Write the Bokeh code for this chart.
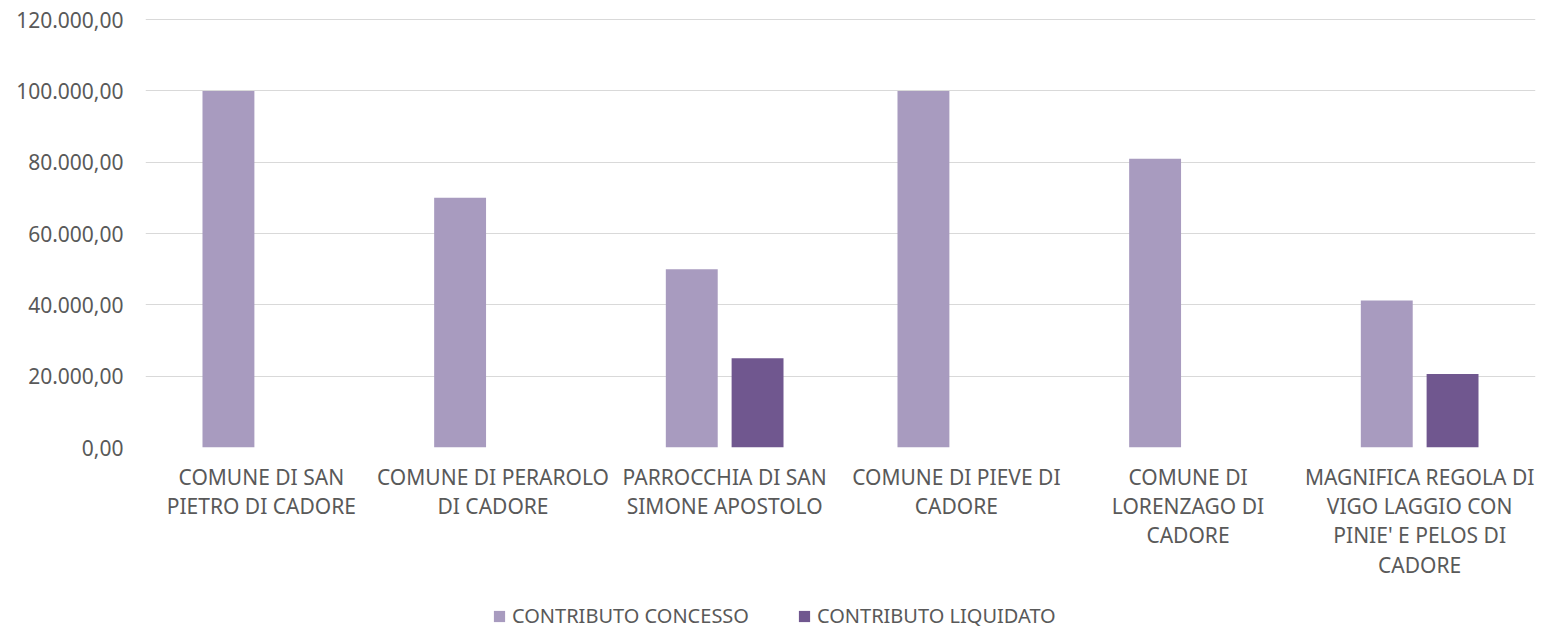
from bokeh.plotting import figure
from bokeh.layouts import column
from bokeh.models import (ColumnDataSource, FactorRange, Range1d, Legend, LegendItem,
                          CustomJSTickFormatter)
from bokeh.transform import dodge
from bokeh.embed import file_html
from bokeh.resources import INLINE

categories = [
    "COMUNE DI SAN\nPIETRO DI CADORE",
    "COMUNE DI PERAROLO\nDI CADORE",
    "PARROCCHIA DI SAN\nSIMONE APOSTOLO",
    "COMUNE DI PIEVE DI\nCADORE",
    "COMUNE DI\nLORENZAGO DI\nCADORE",
    "MAGNIFICA REGOLA DI\nVIGO LAGGIO CON\nPINIE' E PELOS DI\nCADORE",
]
concesso = [100000, 70000, 50000, 100000, 81000, 41200]
liquidato = [0, 0, 25000, 0, 0, 20600]
series_names = ["CONTRIBUTO CONCESSO", "CONTRIBUTO LIQUIDATO"]
colors = ["#a89bbf", "#70578f"]

FONT = "Noto Sans"
TXT = "#595959"
FS = "21px"

src = ColumnDataSource(dict(cat=categories, concesso=concesso, liquidato=liquidato))

p = figure(width=1542, height=602, x_range=FactorRange(*categories),
           y_range=Range1d(0, 120300), output_backend="svg", toolbar_location=None,
           min_border_left=145, min_border_right=7, min_border_top=18, min_border_bottom=155)
p.outline_line_color = None
p.background_fill_color = "white"
p.border_fill_color = "white"

r1 = p.vbar(x=dodge("cat", -0.142, range=p.x_range), top="concesso", width=0.224,
            source=src, fill_color=colors[0], line_color=None)
r2 = p.vbar(x=dodge("cat", 0.142, range=p.x_range), top="liquidato", width=0.224,
            source=src, fill_color=colors[1], line_color=None)

p.x_range.range_padding = 0
p.xgrid.grid_line_color = None
p.ygrid.grid_line_color = "#d9d9d9"
p.ygrid.grid_line_width = 1
p.yaxis.ticker = [0, 20000, 40000, 60000, 80000, 100000, 120000]
p.yaxis.formatter = CustomJSTickFormatter(code="""
    const s = tick.toFixed(2).split('.');
    const i = s[0].replace(/\\B(?=(\\d{3})+(?!\\d))/g, '.');
    return i + ',' + s[1];
""")
for ax in (p.xaxis, p.yaxis):
    ax.axis_line_color = None
    ax.major_tick_line_color = None
    ax.minor_tick_line_color = None
    ax.major_tick_in = 0
    ax.major_tick_out = 0
    ax.major_label_text_font = FONT
    ax.major_label_text_font_size = FS
    ax.major_label_text_color = TXT
p.yaxis.major_label_standoff = 22
p.xaxis.major_label_standoff = 15
p.xaxis.major_label_text_line_height = 1.05

# legend strip below the chart (same series drawn far out of view so legend swatches render)
lf = figure(width=1542, height=26, x_range=FactorRange(*categories),
            y_range=Range1d(1e7, 1e7 + 1),
            output_backend="svg", toolbar_location=None,
            x_axis_location=None, y_axis_location=None,
            min_border_left=0, min_border_right=0, min_border_top=0, min_border_bottom=0)
lf.outline_line_color = None
lf.grid.grid_line_color = None
l1 = lf.vbar(x=dodge("cat", -0.142, range=lf.x_range), top="concesso", width=0.224,
             source=src, fill_color=colors[0], line_color=None)
l2 = lf.vbar(x=dodge("cat", 0.142, range=lf.x_range), top="liquidato", width=0.224,
             source=src, fill_color=colors[1], line_color=None)

legend = Legend(items=[LegendItem(label=series_names[0], renderers=[l1]),
                       LegendItem(label=series_names[1], renderers=[l2])],
                orientation="horizontal", location=(347, -1),
                label_text_font=FONT, label_text_font_size="20px", label_text_color=TXT,
                glyph_width=14, glyph_height=14, label_standoff=6, spacing=48,
                padding=0, margin=0, border_line_color=None, background_fill_alpha=0,
                label_height=16)
lf.add_layout(legend, "center")

layout = column(p, lf, spacing=0)
open("out.html", "w").write(file_html(layout, INLINE))
